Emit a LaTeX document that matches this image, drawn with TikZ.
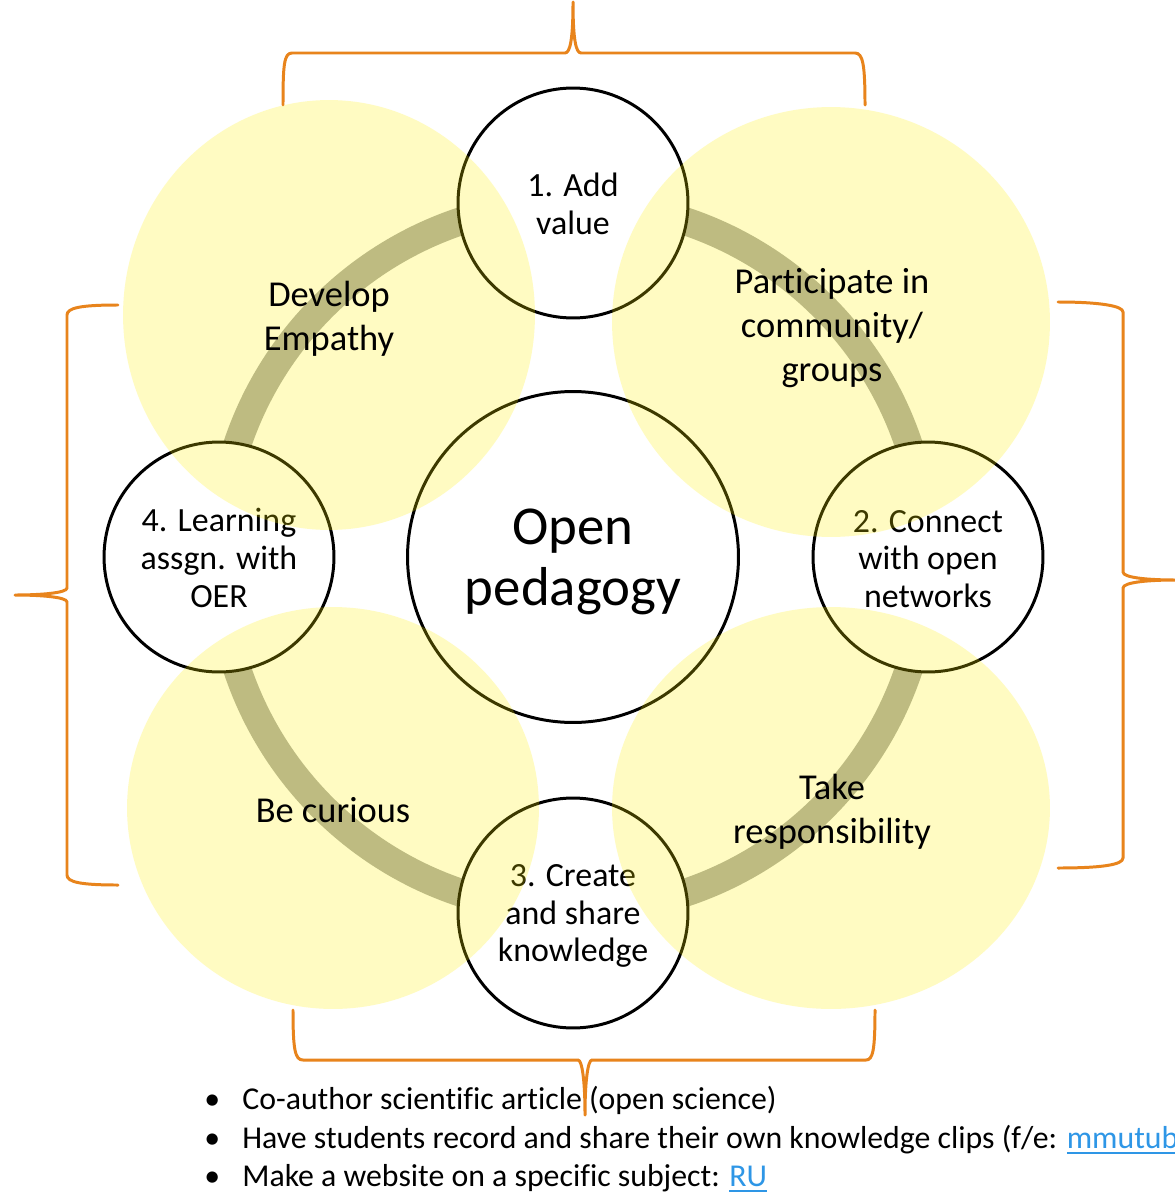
\documentclass[tikz,border=0pt]{standalone}
\usepackage{fontspec}
\setmainfont{Carlito}[Ligatures={TeX,NoCommon}]
\definecolor{ringgray}{RGB}{170,170,170}
\definecolor{braceorange}{RGB}{232,132,28}
\definecolor{linkblue}{RGB}{46,150,230}
\newcommand\linkul[1]{{\color{linkblue}\setbox0\hbox{#1}\rlap{\rule[-0.2em]{\wd0}{0.085em}}\box0}}
\begin{document}
\begin{tikzpicture}[x=0.02cm,y=-0.02cm,
  smallc/.style={circle, draw=black, line width=1.7pt, fill=white, minimum size=4.6cm, inner sep=0pt},
  smalltext/.style={align=center, inner sep=0pt, font=\fontsize{19.3pt}{21.5pt}\selectfont},
  bigc/.style={circle, draw=black, line width=1.7pt, fill=white, minimum size=6.62cm, inner sep=0pt},
  bigtext/.style={align=center, inner sep=0pt, font=\fontsize{31.2pt}{34.6pt}\selectfont},
  ringline/.style={draw=ringgray, line width=15.9pt},
  petal/.style={fill=yellow, fill opacity=0.24},
  petaltext/.style={align=center, inner sep=0pt, font=\fontsize{20.75pt}{24.9pt}\selectfont},
  bracepath/.style={draw=braceorange, line width=1.7pt, line cap=round, line join=round},
  bullettext/.style={anchor=base west, inner sep=0pt, font=\fontsize{18.1pt}{21.8pt}\selectfont},
]
\useasboundingbox (0,0) rectangle (1175,1193);
\clip (0,0) rectangle (1175,1193);
\fill[white] (0,0) rectangle (1175,1193);

\coordinate (O) at (573,557);
\draw[ringline] (O) circle[radius=7.08cm];

\node[smallc] (c1) at (573,203) {};
\node[smallc] (c2) at (928,557) {};
\node[smallc] (c3) at (573,913) {};
\node[smallc] (c4) at (219,557) {};
\node[bigc] (ctr) at (O) {};

\node[smalltext] (t1) at (573,204) {1. Add\\value};
\node[smalltext] (t2) at (928,559) {2. Connect\\with open\\networks};
\node[smalltext] (t3) at (573,916) {3. Create\\and share\\knowledge};
\node[smalltext] (t4) at (219,558) {4. Learning\\assgn. with\\OER};
\node[bigtext] (ctrtext) at (573,562) {Open\\pedagogy};

\fill[petal] (329,315) ellipse[x radius=4.12cm, y radius=4.3cm];
\fill[petal] (831,322) ellipse[x radius=4.38cm, y radius=4.3cm];
\fill[petal] (333,808) ellipse[x radius=4.12cm, y radius=4.02cm];
\fill[petal] (831,808) ellipse[x radius=4.38cm, y radius=4.02cm];

\node[petaltext] (p1) at (329,319) {Develop\\Empathy};
\node[petaltext] (p2) at (832,328) {Participate in\\community/\\groups};
\node[petaltext] (p3) at (333,810) {Be curious};
\node[petaltext] (p4) at (832,812) {Take\\responsibility};

% braces
\draw[bracepath] (283,105) .. controls (283,65) and (284,53) .. (292,53) -- (565,53)
  .. controls (570,53) and (573,40) .. (573,2)
  .. controls (573,40) and (576,53) .. (581,53) -- (855,53)
  .. controls (863,53) and (865,65) .. (865,105);
\draw[bracepath] (118,305) .. controls (80,305) and (67,308) .. (67,315) -- (67,588)
  .. controls (67,593) and (40,595) .. (15,595)
  .. controls (40,595) and (67,597) .. (67,602) -- (67,875)
  .. controls (67,882) and (80,885) .. (118,885);
\draw[bracepath] (1058,302) .. controls (1100,302) and (1123,306) .. (1123,312) -- (1123,572)
  .. controls (1123,578) and (1150,580) .. (1176,580)
  .. controls (1150,580) and (1123,582) .. (1123,588) -- (1123,858)
  .. controls (1123,865) and (1100,868) .. (1058,868);
\draw[bracepath] (293,1010) .. controls (293,1050) and (295,1060) .. (303,1060) -- (578,1060)
  .. controls (582,1060) and (585,1080) .. (585,1115)
  .. controls (585,1080) and (588,1060) .. (592,1060) -- (866,1060)
  .. controls (873,1060) and (875,1050) .. (875,1010);

% bullets
\node[bullettext] (d1) at (204,1109) {\textbullet};
\node[bullettext] (d2) at (204,1148) {\textbullet};
\node[bullettext] (d3) at (204,1186) {\textbullet};
\node[bullettext] (b1) at (242,1109) {Co-author scientific article (open science)};
\node[bullettext] (b2) at (242,1148) {Have students record and share their own knowledge clips (f/e: \linkul{mmutube})};
\node[bullettext] (b3) at (242,1186) {Make a website on a specific subject: \linkul{RU}};
\end{tikzpicture}
\end{document}
